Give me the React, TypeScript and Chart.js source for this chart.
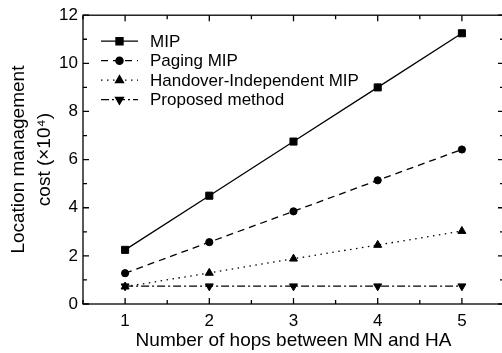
import React, { useEffect, useRef } from 'react';
import { Chart, registerables } from 'chart.js';
import { drawPoint } from 'chart.js/helpers';

Chart.register(...registerables);

const hops = [1, 2, 3, 4, 5];
const mipCost = [2.25, 4.5, 6.75, 9.0, 11.25];
const pagingMipCost = [1.28, 2.57, 3.85, 5.14, 6.42];
const handoverIndependentCost = [0.72, 1.29, 1.88, 2.45, 3.03];
const proposedCost = [0.74, 0.74, 0.74, 0.74, 0.74];

const seriesNames = ['MIP', 'Paging MIP', 'Handover-Independent MIP', 'Proposed method'];
const xTickValues = [1, 2, 3, 4, 5];
const xMinorTickValues = [0.5, 1.5, 2.5, 3.5, 4.5, 5.5];
const yTickValues = [0, 2, 4, 6, 8, 10, 12];
const yMinorTickValues = [1, 3, 5, 7, 9, 11];

const xTitle = 'Number of hops between MN and HA';
const yTitle = ['Location management', 'cost (\u00d710\u2074)'];

const FONT = "'Liberation Sans', Arial, sans-serif";

const styles = [
  { dash: [], pointStyle: 'rect', radius: 5, rotation: 0 },
  { dash: [7, 5], pointStyle: 'circle', radius: 3.6, rotation: 0 },
  { dash: [1.5, 4.5], pointStyle: 'triangle', radius: 4.6, rotation: 0 },
  { dash: [8, 3, 2, 3], pointStyle: 'triangle', radius: 4.6, rotation: 180 },
];

const seriesValues = [mipCost, pagingMipCost, handoverIndependentCost, proposedCost];

const framePlugin = {
  id: 'frameTicks',
  afterDraw(chart: any) {
    const { ctx, chartArea } = chart;
    const { left, right, top, bottom } = chartArea;
    const xs = chart.scales.x;
    const ys = chart.scales.y;
    ctx.save();
    ctx.strokeStyle = '#000';
    ctx.lineWidth = 1.3;
    ctx.setLineDash([]);
    ctx.strokeRect(left, top, right - left, bottom - top);
    const major = 6;
    const minor = 4;
    ctx.beginPath();
    const xt = (v: number, len: number) => {
      const px = xs.getPixelForValue(v);
      ctx.moveTo(px, bottom);
      ctx.lineTo(px, bottom - len);
      ctx.moveTo(px, top);
      ctx.lineTo(px, top + len);
    };
    const yt = (v: number, len: number) => {
      const py = ys.getPixelForValue(v);
      ctx.moveTo(left, py);
      ctx.lineTo(left + len, py);
      ctx.moveTo(right, py);
      ctx.lineTo(right - len, py);
    };
    xTickValues.forEach((v) => xt(v, major));
    xMinorTickValues.forEach((v) => xt(v, minor));
    yTickValues.forEach((v) => yt(v, major));
    yMinorTickValues.forEach((v) => yt(v, minor));
    ctx.stroke();

    // legend
    const lx0 = left + 18;
    const lx1 = left + 55;
    const tx = left + 67;
    ctx.font = `17px ${FONT}`;
    ctx.textBaseline = 'middle';
    ctx.textAlign = 'left';
    ctx.fillStyle = '#000';
    seriesNames.forEach((name, i) => {
      const y = top + 26 + i * 19.5;
      const st = styles[i];
      ctx.beginPath();
      ctx.setLineDash(st.dash);
      ctx.lineWidth = 1.3;
      ctx.moveTo(lx0, y);
      ctx.lineTo(lx1, y);
      ctx.stroke();
      ctx.setLineDash([]);
      drawPoint(ctx, { pointStyle: st.pointStyle, radius: st.radius, rotation: st.rotation, borderWidth: 1 } as any, (lx0 + lx1) / 2, y);
      ctx.fillText(name, tx, y + 1);
    });
    ctx.restore();
  },
};

export default function App() {
  const ref = useRef<HTMLCanvasElement>(null);
  useEffect(() => {
    const canvas = ref.current!;
    const chart = new Chart(canvas, {
      type: 'line',
      data: {
        datasets: seriesNames.map((name, i) => ({
          label: name,
          data: hops.map((h, j) => ({ x: h, y: seriesValues[i][j] })),
          borderColor: '#000',
          backgroundColor: '#000',
          borderWidth: 1.3,
          borderDash: styles[i].dash,
          pointStyle: styles[i].pointStyle as any,
          pointRadius: styles[i].radius,
          pointRotation: styles[i].rotation,
          pointBorderWidth: 1,
          tension: 0,
          fill: false,
          clip: false as any,
        })),
      },
      options: {
        animation: false,
        responsive: false,
        devicePixelRatio: 1,
        layout: { padding: { top: 15, right: 6, left: 0, bottom: 0 } },
        plugins: { legend: { display: false }, tooltip: { enabled: false } },
        scales: {
          x: {
            type: 'linear',
            min: 0.5,
            max: 5.5,
            grid: { display: false, drawTicks: false },
            border: { display: false },
            afterBuildTicks: (s: any) => {
              s.ticks = xTickValues.map((v) => ({ value: v }));
            },
            afterFit: (s: any) => {
              s.height = 49;
            },
            ticks: {
              color: '#000',
              font: { family: FONT, size: 17 },
              padding: 7,
              maxRotation: 0,
              autoSkip: false,
            },
            title: {
              display: true,
              text: xTitle,
              color: '#000',
              font: { family: FONT, size: 19 },
              padding: { top: 0, bottom: 0.5 },
            },
          },
          y: {
            min: 0,
            max: 12,
            grid: { display: false, drawTicks: false },
            border: { display: false },
            afterBuildTicks: (s: any) => {
              s.ticks = yTickValues.map((v) => ({ value: v }));
            },
            afterFit: (s: any) => {
              s.width = 83;
            },
            ticks: {
              color: '#000',
              font: { family: FONT, size: 17 },
              padding: 5,
              autoSkip: false,
            },
            title: {
              display: true,
              text: yTitle,
              color: '#000',
              font: { family: FONT, size: 19, lineHeight: 1.35 },
              padding: { top: 6, bottom: 0 },
            },
          },
        },
      },
      plugins: [framePlugin],
    });
    return () => chart.destroy();
  }, []);
  return (
    <div style={{ position: 'absolute', left: 0, top: 0, width: 502, height: 353, overflow: 'hidden', background: '#fff' }}>
      <canvas ref={ref} width={510} height={353} style={{ display: 'block' }} />
    </div>
  );
}
